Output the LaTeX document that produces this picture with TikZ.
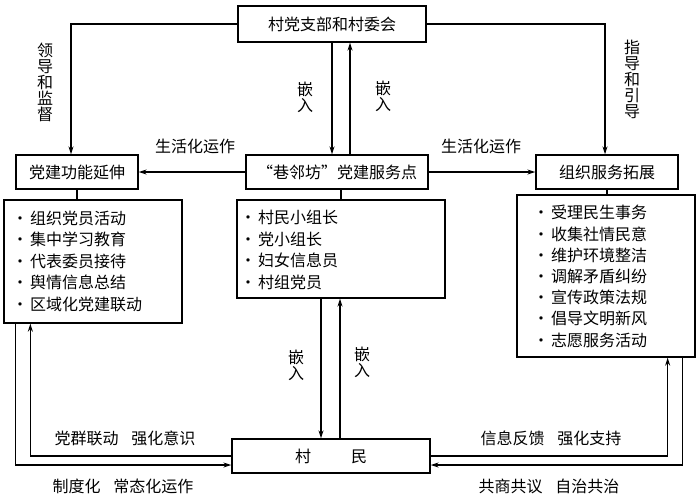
\documentclass[tikz,border=0pt]{standalone}
\usepackage{fontspec}
\setmainfont{Noto Sans CJK SC}
\usetikzlibrary{arrows.meta}
\newcommand{\itm}{\makebox[20pt][c]{·}}
\begin{document}
\begin{tikzpicture}[x=1pt,y=-1pt,
        >={Stealth[length=8pt,width=5pt]},
        every node/.style={font=\fontsize{16pt}{21.5pt}\selectfont},
        box/.style={draw,line width=1.3pt,inner sep=0pt},
        items/.style={align=left,inner sep=0pt,anchor=west},
        vtext/.style={align=center,inner sep=0pt,font=\fontsize{16pt}{16pt}\selectfont},
        link/.style={line width=1.3pt}]
        \useasboundingbox (0,0) rectangle (700,496);
        \node[box,minimum width=188pt,minimum height=36pt] (dangwei) at (332,24) {村党支部和村委会};
        \node[box,minimum width=122pt,minimum height=34pt] (gongneng) at (77,172) {党建功能延伸};
        \node[box,minimum width=182pt,minimum height=34pt] (fuwudian) at (337,172) {“巷邻坊”党建服务点};
        \node[box,minimum width=142pt,minimum height=34pt] (tuozhan) at (607,172) {组织服务拓展};
        \node[box,minimum width=178pt,minimum height=123pt] (leftlist) at (93,261.5) {};
        \node[items] (leftitems) at (10,261) {\itm 组织党员活动\\\itm 集中学习教育\\\itm 代表委员接待\\\itm 舆情信息总结\\\itm 区域化党建联动};
        \node[box,minimum width=208pt,minimum height=98pt] (midlist) at (341,249) {};
        \node[items] (miditems) at (238,250) {\itm 村民小组长\\\itm 党小组长\\\itm 妇女信息员\\\itm 村组党员};
        \node[box,minimum width=178pt,minimum height=162pt] (rightlist) at (606,276) {};
        \node[items,font=\fontsize{16pt}{21.2pt}\selectfont] (rightitems) at (531,276.5) {\itm 受理民生事务\\\itm 收集社情民意\\\itm 维护环境整洁\\\itm 调解矛盾纠纷\\\itm 宣传政策法规\\\itm 倡导文明新风\\\itm 志愿服务活动};
        \node[box,minimum width=198pt,minimum height=34pt] (cunmin) at (331,456) {村\hspace{40pt}民};
        \node[vtext] (lingdao) at (45,82) {领\\导\\和\\监\\督};
        \node[vtext] (zhidao) at (632,79) {指\\导\\和\\引\\导};
        \node[vtext] (qianru1) at (305,97) {嵌\\入};
        \node[vtext] (qianru2) at (383,96) {嵌\\入};
        \node[vtext] (qianru3) at (296,365) {嵌\\入};
        \node[vtext] (qianru4) at (362,362) {嵌\\入};
        \node (shenghuo1) at (195,146) {生活化运作};
        \node (shenghuo2) at (481,146) {生活化运作};
        \node (dangqun) at (125,438) {党群联动\hspace{0.8em}强化意识};
        \node (zhidu) at (123,486) {制度化\hspace{0.8em}常态化运作};
        \node (xinxi) at (551,438) {信息反馈\hspace{0.8em}强化支持};
        \node (gongshang) at (549,486) {共商共议\hspace{0.8em}自治共治};
        \draw[link,->] (dangwei.west) -| ([xshift=-6pt]gongneng.north);
        \draw[link,->] (dangwei.east) -| ([xshift=-2pt]tuozhan.north);
        \draw[link,->] (dangwei.south) -- ([xshift=-5pt]fuwudian.north);
        \draw[link,->] ([xshift=13pt]fuwudian.north) -- ([xshift=18pt]dangwei.south);
        \draw[link,->] (fuwudian.west) -- (gongneng.east);
        \draw[link,->] (fuwudian.east) -- (tuozhan.west);
        \draw[link] (gongneng.south) -- (gongneng.south |- leftlist.north);
        \draw[link] (midlist.north) -- (midlist.north |- fuwudian.south);
        \draw[link] (tuozhan.south) -- (tuozhan.south |- rightlist.north);
        \draw[link,->] ([xshift=-20pt]midlist.south) -- ([xshift=-10pt]cunmin.north);
        \draw[link,->] ([xshift=9pt]cunmin.north) -- ([xshift=-1pt]midlist.south);
        \draw[link,->] ([xshift=12pt]leftlist.south west) |- ([yshift=-9pt]cunmin.west);
        \draw[link,->] (cunmin.west) -| ([xshift=27pt]leftlist.south west);
        \draw[link,->] (cunmin.east) -| ([xshift=-28pt]rightlist.south east);
        \draw[link,->] ([xshift=-13pt]rightlist.south east) |- ([yshift=-9pt]cunmin.east);
    \end{tikzpicture}
\end{document}
